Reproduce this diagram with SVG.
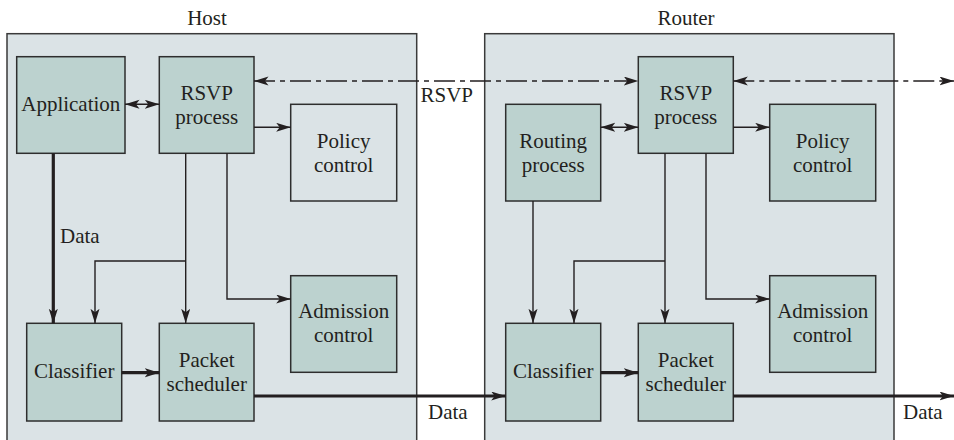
<svg xmlns="http://www.w3.org/2000/svg" width="954" height="440" viewBox="0 0 954 440">
<style>
.panel{fill:#dbe3e6;stroke:#3a3a3a;stroke-width:1.5}
.node{fill:#bcd2cf;stroke:#2e2e2e;stroke-width:1.5}
.plain{fill:#dbe3e6;stroke:#2e2e2e;stroke-width:1.5}
text{font-family:"Liberation Serif","Times New Roman",serif;font-size:21px;fill:#231f20}
.c{text-anchor:middle}
.thin{fill:none;stroke:#231f20;stroke-width:1.4}
.thick{fill:none;stroke:#231f20;stroke-width:3.2}
.dash{fill:none;stroke:#231f20;stroke-width:1.4;stroke-dasharray:21 5 5 5}
</style>
<defs>
<marker id="ah" markerUnits="userSpaceOnUse" markerWidth="16" markerHeight="10" refX="14.5" refY="4.5" orient="auto-start-reverse">
<path d="M0,0 L14.5,4.5 L0,9 L3.5,4.5 z" fill="#231f20"/>
</marker>
</defs>
<g id="host">
<rect class="panel" x="7" y="33.7" width="409.7" height="420"/>
<text class="c" x="207" y="25">Host</text>
</g>
<g id="router">
<rect class="panel" x="484.7" y="33.7" width="409.3" height="420"/>
<text class="c" x="686" y="25">Router</text>
</g>
<g id="application">
<rect class="node" x="16.7" y="56.7" width="108.3" height="96.6"/>
<text class="c" x="70.8" y="110.5">Application</text>
</g>
<g id="host-rsvp">
<rect class="node" x="159.3" y="56.7" width="94.7" height="96.6"/>
<text class="c" x="206.7" y="100">RSVP</text>
<text class="c" x="206.7" y="124">process</text>
</g>
<g id="host-policy">
<rect class="plain" x="290.7" y="104.3" width="106" height="96.7"/>
<text class="c" x="343.7" y="148">Policy</text>
<text class="c" x="343.7" y="172">control</text>
</g>
<g id="host-admission">
<rect class="node" x="290.7" y="275.7" width="106" height="96.6"/>
<text class="c" x="343.7" y="318.3">Admission</text>
<text class="c" x="343.7" y="341.7">control</text>
</g>
<g id="host-classifier">
<rect class="node" x="26.7" y="323.3" width="95" height="97.7"/>
<text class="c" x="74.2" y="378.3">Classifier</text>
</g>
<g id="host-scheduler">
<rect class="node" x="159.3" y="323.3" width="94.7" height="97.7"/>
<text class="c" x="206.7" y="366.7">Packet</text>
<text class="c" x="206.7" y="390.7">scheduler</text>
</g>
<g id="router-rsvp">
<rect class="node" x="638.3" y="56.7" width="95" height="96.6"/>
<text class="c" x="685.8" y="100">RSVP</text>
<text class="c" x="685.8" y="124">process</text>
</g>
<g id="routing">
<rect class="node" x="505.7" y="104.3" width="95" height="96.7"/>
<text class="c" x="553.2" y="148">Routing</text>
<text class="c" x="553.2" y="172">process</text>
</g>
<g id="router-policy">
<rect class="node" x="769.7" y="104.3" width="106" height="96.7"/>
<text class="c" x="822.7" y="148">Policy</text>
<text class="c" x="822.7" y="172">control</text>
</g>
<g id="router-admission">
<rect class="node" x="769.7" y="275.7" width="106" height="96.6"/>
<text class="c" x="822.7" y="318.3">Admission</text>
<text class="c" x="822.7" y="341.7">control</text>
</g>
<g id="router-classifier">
<rect class="node" x="505.7" y="323.3" width="95" height="97.7"/>
<text class="c" x="553.2" y="378.3">Classifier</text>
</g>
<g id="router-scheduler">
<rect class="node" x="638.3" y="323.3" width="95" height="97.7"/>
<text class="c" x="685.8" y="366.7">Packet</text>
<text class="c" x="685.8" y="390.7">scheduler</text>
</g>
<g id="connectors">
<line class="thin" x1="125" y1="104.3" x2="159.3" y2="104.3" marker-start="url(#ah)" marker-end="url(#ah)"/>
<line class="thin" x1="254" y1="127.3" x2="290.7" y2="127.3" marker-end="url(#ah)"/>
<line class="thick" x1="53.3" y1="153.3" x2="53.3" y2="323.3" marker-end="url(#ah)"/>
<line class="thin" x1="185.7" y1="153.3" x2="185.7" y2="323.3" marker-end="url(#ah)"/>
<polyline class="thin" points="185.7,261 95,261 95,323.3" marker-end="url(#ah)"/>
<polyline class="thin" points="227,153.3 227,299 290.7,299" marker-end="url(#ah)"/>
<line class="thick" x1="121.7" y1="372.7" x2="159.3" y2="372.7" marker-end="url(#ah)"/>
<line class="thick" x1="254" y1="396" x2="505.7" y2="396" marker-end="url(#ah)"/>
<line class="dash" x1="254" y1="81" x2="638.3" y2="81" marker-start="url(#ah)" marker-end="url(#ah)"/>
<line class="dash" x1="733.3" y1="81" x2="954" y2="81" marker-start="url(#ah)" marker-end="url(#ah)"/>
<line class="thin" x1="600.7" y1="127.3" x2="638.3" y2="127.3" marker-start="url(#ah)" marker-end="url(#ah)"/>
<line class="thin" x1="733.3" y1="127.3" x2="769.7" y2="127.3" marker-end="url(#ah)"/>
<line class="thin" x1="533" y1="201" x2="533" y2="323.3" marker-end="url(#ah)"/>
<line class="thin" x1="665" y1="153.3" x2="665" y2="323.3" marker-end="url(#ah)"/>
<polyline class="thin" points="665,261 574,261 574,323.3" marker-end="url(#ah)"/>
<polyline class="thin" points="706,153.3 706,299 769.7,299" marker-end="url(#ah)"/>
<line class="thick" x1="600.7" y1="372.7" x2="638.3" y2="372.7" marker-end="url(#ah)"/>
<line class="thick" x1="733.3" y1="396" x2="954" y2="396" marker-end="url(#ah)"/>
<text x="420.5" y="101.7">RSVP</text>
<text x="60" y="243.3">Data</text>
<text x="428" y="419">Data</text>
<text x="903" y="419">Data</text>
</g>
</svg>
